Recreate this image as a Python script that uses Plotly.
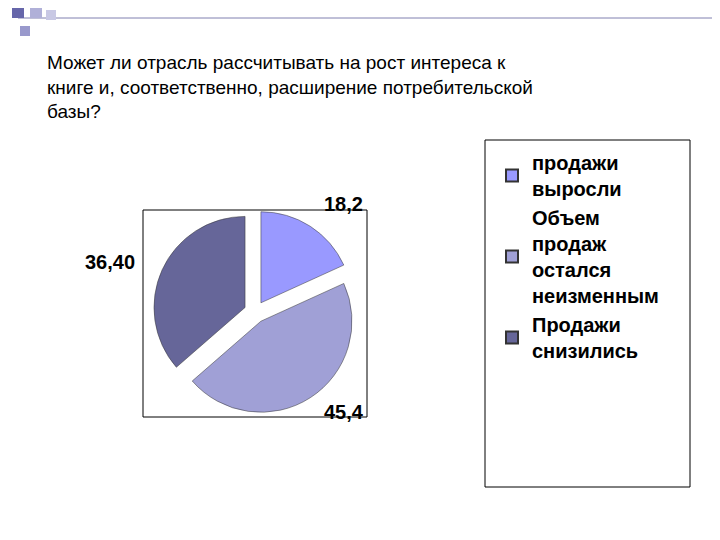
import plotly.graph_objects as go

labels = ["продажи<br>выросли", "Объем<br>продаж<br>остался<br>неизменным", "Продажи<br>снизились"]
values = [18.2, 45.4, 36.4]
value_text = ["18,2", "45,4", "36,40"]
colors = ["#9999FF", "#A0A0D6", "#666699"]

W, H = 720, 540
OFF = 8
def px(x): return (x - OFF) / W
def py(y): return 1 - (y - OFF) / H

fig = go.Figure(go.Pie(
    labels=labels, values=values, sort=False, direction="clockwise", rotation=0,
    marker=dict(colors=colors, line=dict(color="#333333", width=0.5)),
    pull=[0.12, 0.12, 0.12], textinfo="none", hoverinfo="label+value",
    domain=dict(x=[px(148), px(362)], y=[py(414), py(210)]),
))

shapes = [
    dict(type="rect", xref="paper", yref="paper", x0=px(143), x1=px(367), y0=py(417), y1=py(210),
         line=dict(color="black", width=1)),
    dict(type="rect", xref="paper", yref="paper", x0=px(485), x1=px(690), y0=py(487), y1=py(140),
         line=dict(color="black", width=1)),
    dict(type="line", xref="paper", yref="paper", x0=px(18), x1=px(728), y0=py(18), y1=py(18),
         line=dict(color="#8080B0", width=1)),
]
for (x, y, s, c) in [(12, 6, 12, "#6666AA"), (30, 6, 12, "#B0B0D8"), (46, 10, 10, "#C8C8E4"), (20, 26, 10, "#9999CC")]:
    shapes.append(dict(type="rect", xref="paper", yref="paper", x0=px(x), x1=px(x + s), y0=py(y + s), y1=py(y),
                       fillcolor=c, line=dict(width=0)))

ann = [dict(text="Может ли отрасль рассчитывать на рост интереса к<br>книге и, соответственно, расширение потребительской<br>базы?",
            x=px(45), y=py(50), xref="paper", yref="paper", xanchor="left", yanchor="top", align="left",
            showarrow=False, font=dict(size=19, family="Liberation Sans, Arial", color="black"))]
label_pos = [(322, 204, "left"), (322, 425, "left"), (83, 262, "left")]
for t, (x, y, a) in zip(value_text, label_pos):
    ann.append(dict(text="<b>" + t + "</b>", x=px(x), y=py(y), xref="paper", yref="paper", showarrow=False,
                    xanchor=a, font=dict(size=20, family="Liberation Sans, Arial", color="black")))

fig.update_layout(
    width=W, height=H, margin=dict(l=0, r=0, t=0, b=0), paper_bgcolor="white",
    shapes=shapes, annotations=ann,
    legend=dict(x=px(492), y=py(143), xanchor="left", yanchor="top",
                font=dict(size=20, family="Liberation Sans, Arial", color="black", weight="bold"),
                itemsizing="constant", bgcolor="rgba(0,0,0,0)"),
)
fig.write_html("out.html")
